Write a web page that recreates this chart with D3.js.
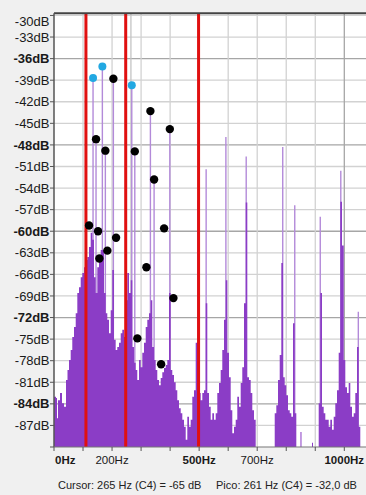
<!DOCTYPE html>
<html><head><meta charset="utf-8">
<script src="https://cdn.jsdelivr.net/npm/d3@7/dist/d3.min.js"></script>
<style>html,body{margin:0;padding:0;background:#f0f0f0;}svg{display:block;}</style>
</head><body><svg id="c" width="366" height="495"></svg>
<script>
// ---- data ----
const yTicks = [-87,-84,-81,-78,-75,-72,-69,-66,-63,-60,-57,-54,-51,-48,-45,-42,-39,-36,-33,-30];
const yBold = [-84,-72,-60,-48,-36];
const xGrid = [100,200,300,400,500,600,700,800,900,1000];
const xLabels = [0,200,500,700,1000];
const xBold = [0,500,1000];
const redLinesHz = [110, 247, 498];
const cursorHz = 265;
// spectrum body [Hz, dB]
const spectrum = [
[0,-83.0],[6.9,-83.2],[10.3,-86.0],[13.8,-83.5],[20.7,-82.5],[27.6,-83.9],[34.4,-84.4],[41.3,-80.7],[46.5,-79.3],[51.7,-77.9],
[57.5,-76.5],[63.0,-74.7],[68.9,-73.3],[74.8,-71.4],[80.3,-68.6],[86.1,-67.8],[92.0,-66.4],[97.5,-65.8],[103.3,-65.0],[109.2,-64.0],
[114.7,-63.6],[120.6,-62.2],[126.4,-60.2],[131.9,-61.2],[137.8,-66.4],[143.6,-68.6],[149.2,-65.0],[155.0,-64.0],[160.9,-62.6],[166.4,-62.6],
[172.2,-68.6],[178.1,-71.4],[183.6,-72.3],[189.5,-74.2],[195.3,-71.0],[200.8,-65.4],[206.7,-75.1],[212.5,-76.5],[218.0,-76.1],[223.9,-75.5],
[229.8,-74.2],[235.3,-73.7],[241.1,-74.7],[247.0,-69.6],[252.5,-65.8],[258.4,-68.6],[264.2,-66.8],[269.7,-76.1],[275.6,-78.3],[281.4,-79.3],
[286.9,-80.7],[292.8,-77.9],[298.7,-78.9],[304.2,-76.9],[310.0,-75.5],[315.9,-73.3],[321.4,-72.3],[327.2,-71.4],[333.1,-69.6],[338.6,-76.1],
[344.5,-77.9],[350.3,-79.3],[355.8,-80.7],[361.7,-81.4],[367.6,-80.4],[373.1,-79.6],[378.9,-79.0],[384.8,-78.6],[390.3,-77.9],[396.1,-68.6],
[402.0,-79.3],[407.5,-80.0],[413.4,-81.0],[419.2,-82.1],[424.7,-83.5],[430.6,-84.6],[436.5,-85.3],[442.0,-86.2],[447.8,-87.2],[453.7,-89.0],
[459.2,-85.8],[465.0,-87.2],[470.9,-86.2],[476.4,-83.0],[482.3,-82.1],[488.1,-75.5],[493.6,-55.7],[499.5,-82.5],[505.3,-83.5],[510.9,-82.5],
[516.7,-82.1],[522.6,-70.0],[528.1,-82.5],[533.9,-84.4],[539.8,-86.2],[545.3,-85.3],[551.2,-86.2],[557.0,-85.3],[562.5,-82.5],[568.4,-81.1],
[574.2,-79.3],[579.7,-76.5],[585.6,-72.3],[591.5,-66.8],[597.0,-76.9],[602.8,-80.3],[608.7,-84.9],[614.2,-88.1],[620.1,-87.2],[625.9,-86.2],
[631.4,-83.0],[637.3,-84.4],[643.1,-81.1],[648.6,-78.9],[654.5,-70.0],[660.4,-56.0],[665.9,-80.3],[671.7,-80.7],[677.6,-82.5],[683.1,-84.9],
[689.0,-86.2],[694.8,-90],[760.3,-85.3],[765.8,-84.2],[771.6,-80.7],[777.5,-77.2],[783.0,-64.4],[788.9,-80.3],[794.7,-81.4],[800.2,-82.8],
[806.1,-84.9],[812.0,-85.3],[817.5,-85.8],[823.3,-72.8],[829.2,-85.3],[834.7,-90],[849.0,-87.9],[852.5,-90],[888.7,-89.4],[892.2,-90],
[911.8,-83.9],[917.3,-68.6],[923.2,-84.4],[929.0,-85.3],[934.6,-86.2],[940.4,-86.2],[946.3,-87.2],[951.8,-86.2],[957.6,-87.6],[963.5,-85.8],
[969.0,-83.9],[974.9,-82.1],[980.7,-76.9],[986.2,-55.9],[992.1,-62.0],[998.0,-77.9],[1003.5,-81.7],[1009.3,-82.5],[1015.2,-81.1],[1020.7,-84.4],
[1026.5,-85.8],[1032.4,-85.3],[1037.9,-82.5],[1043.8,-76.1],[1049.6,-87.2],[1055.1,-90]
];
// narrow peaks [Hz, dB]
const peaks = [
[134.5,-38.7],[166.6,-37.1],[204.5,-38.8],[267.9,-39.7],[332.1,-43.3],[399.0,-45.8],[524.1,-51.4],[592.1,-46.9],
[662.1,-49.6],[787.9,-48.3],[829.3,-56.4],[917.2,-58.0],[987.9,-51.6],[1048.3,-71.2],
[144.8,-47.2],[176.9,-48.8],[278.3,-48.9],[344.8,-52.8]
];
const blueDots = [[134.5,-38.7],[166.6,-37.1],[267.9,-39.7]];
const blackDots = [
[204.5,-38.8],[332.1,-43.3],[144.8,-47.2],[176.9,-48.8],[278.3,-48.9],[344.8,-52.8],[379.3,-59.6],[120.7,-59.2],
[151.7,-60.0],[213.8,-60.9],[183.8,-62.7],[156.2,-63.8],[318.3,-65.0],[287.2,-74.9],[369.0,-78.5],[399.0,-45.8],[411.4,-69.3]
];
const cursorText = "Cursor: 265 Hz (C4) = -65 dB";
const peakText = "Pico: 261 Hz (C4) = -32,0 dB";

// ---- drawing ----
const svg = d3.select("#c");
const L = 54, R = 366, T = 13.3, B = 447;
const x = d3.scaleLinear().domain([0, 1000]).range([L, 344.3]);
const y = d3.scaleLinear().domain([-90, -29.7]).range([B, T]);
const font = "'Liberation Sans', Arial, sans-serif";

svg.append("rect").attr("width",366).attr("height",495).attr("fill","#f0f0f0");
svg.append("defs").append("clipPath").attr("id","clip")
  .append("rect").attr("x",L).attr("y",T).attr("width",R-L).attr("height",B-T);
svg.append("rect").attr("x",L).attr("y",T).attr("width",R-L).attr("height",B-T).attr("fill","#ffffff");

const g = svg.append("g").attr("clip-path","url(#clip)");
// grid
g.selectAll("line.hg").data(yTicks).enter().append("line")
  .attr("x1",L).attr("x2",R).attr("y1",d=>y(d)).attr("y2",d=>y(d))
  .attr("stroke",d=>yBold.includes(d)?"#a6a6a6":"#d2d2d2").attr("stroke-width",1.3);
g.selectAll("line.vg").data(xGrid).enter().append("line")
  .attr("y1",T).attr("y2",B).attr("x1",d=>x(d)).attr("x2",d=>x(d))
  .attr("stroke",d=>(d%500===0)?"#a6a6a6":"#d2d2d2").attr("stroke-width",1.3);
g.append("line").attr("x1",x(cursorHz)).attr("x2",x(cursorHz)).attr("y1",T).attr("y2",B)
  .attr("stroke","#c4c4c4").attr("stroke-width",1.3);

// narrow peaks
g.selectAll("line.pk").data(peaks).enter().append("line")
  .attr("x1",d=>x(d[0])).attr("x2",d=>x(d[0])).attr("y1",y(-90)).attr("y2",d=>y(d[1]))
  .attr("stroke","#b38ad9").attr("stroke-width",1.4);

// body
const area = d3.area().curve(d3.curveStepAfter)
  .x(d=>x(d[0])).y0(y(-90)).y1(d=>y(d[1]));
g.append("path").datum(spectrum).attr("d",area).attr("fill","#8b3dc6");

// red lines
g.selectAll("line.red").data(redLinesHz).enter().append("line")
  .attr("x1",d=>x(d)).attr("x2",d=>x(d)).attr("y1",T).attr("y2",B)
  .attr("stroke","#e01010").attr("stroke-width",3);

// dots
g.selectAll("circle.bk").data(blackDots).enter().append("circle")
  .attr("cx",d=>x(d[0])).attr("cy",d=>y(d[1])).attr("r",4.2).attr("fill","#000");
g.selectAll("circle.bl").data(blueDots).enter().append("circle")
  .attr("cx",d=>x(d[0])).attr("cy",d=>y(d[1])).attr("r",4).attr("fill","#22a8e2");

// axes frame
svg.append("line").attr("x1",L).attr("x2",R).attr("y1",T).attr("y2",T).attr("stroke","#444").attr("stroke-width",2);
svg.append("line").attr("x1",L).attr("x2",L).attr("y1",T).attr("y2",B).attr("stroke","#555").attr("stroke-width",1.5);
svg.append("line").attr("x1",L).attr("x2",R).attr("y1",B).attr("y2",B).attr("stroke","#777").attr("stroke-width",1.2);

// y ticks & labels
const yt = yTicks.concat([-90]);
svg.selectAll("line.yt").data(yt).enter().append("line")
  .attr("x1",50).attr("x2",L).attr("y1",d=>y(d)).attr("y2",d=>y(d)).attr("stroke","#555").attr("stroke-width",1);
svg.selectAll("text.yl").data(yTicks).enter().append("text")
  .attr("x",49.5).attr("y",d=>Math.max(y(d),21.5)+4.6)
  .attr("text-anchor","end").attr("font-family",font).attr("font-size",13)
  .attr("font-weight",d=>yBold.includes(d)?"bold":"normal").attr("fill","#1a1a1a")
  .text(d=>d+"dB");

// x ticks & labels
svg.selectAll("line.xt").data([0].concat(xGrid)).enter().append("line")
  .attr("x1",d=>x(d)).attr("x2",d=>x(d)).attr("y1",B).attr("y2",B+4).attr("stroke","#555").attr("stroke-width",1);
svg.selectAll("text.xl").data(xLabels).enter().append("text")
  .attr("x",d=>d===0?L+1:x(d)).attr("y",464)
  .attr("text-anchor",d=>d===0?"start":"middle")
  .attr("font-family",font).attr("font-size",11.5)
  .attr("font-weight",d=>xBold.includes(d)?"bold":"normal").attr("fill","#1a1a1a")
  .text(d=>d+"Hz");

// status text
svg.append("text").attr("x",58).attr("y",489).attr("font-family",font).attr("font-size",11).attr("fill","#222").text(cursorText);
svg.append("text").attr("x",216).attr("y",489).attr("font-family",font).attr("font-size",11).attr("fill","#222").text(peakText);
</script></body></html>
